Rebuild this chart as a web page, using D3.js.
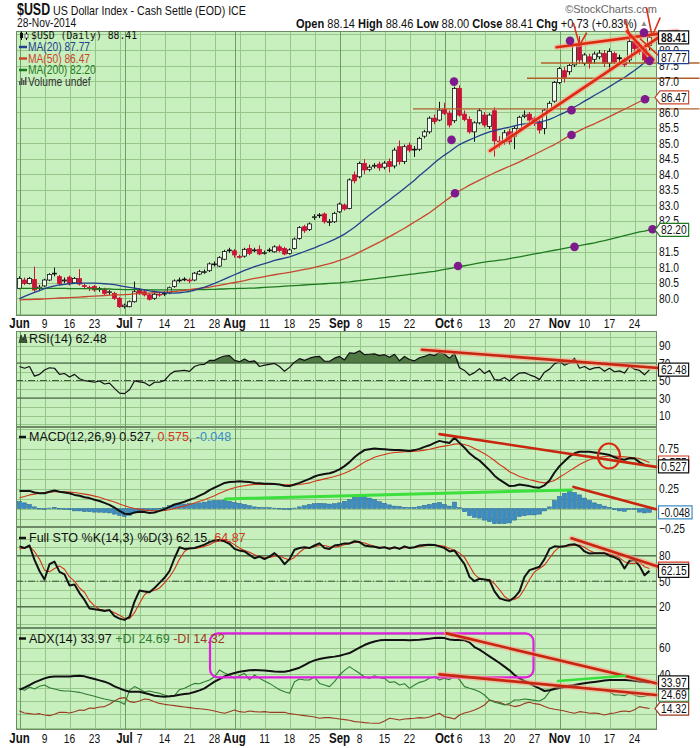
<!DOCTYPE html>
<html><head><meta charset="utf-8">
<script src="https://cdn.jsdelivr.net/npm/d3@7"></script>
<style>body{margin:0;background:#fff}text{font-family:"Liberation Sans",Arial,sans-serif}</style>
</head><body>
<svg id="c" width="700" height="748"></svg>
<script>
// ---------- DATA ----------
const holidays = ["2014-07-04","2014-09-01","2014-11-27"];
const monthNames = ["Jan","Feb","Mar","Apr","May","Jun","Jul","Aug","Sep","Oct","Nov","Dec"];
const openP = [80.31,80.58,80.47,80.60,80.31,80.39,80.58,80.78,80.69,80.55,80.67,80.49,80.63,80.40,80.34,80.37,80.28,80.28,80.18,80.15,79.99,79.72,79.72,79.88,80.26,80.20,80.10,79.99,80.12,80.13,80.17,80.37,80.57,80.59,80.58,80.58,80.77,80.84,80.88,81.09,81.03,81.25,81.54,81.52,81.34,81.35,81.60,81.54,81.57,81.45,81.54,81.49,81.65,81.60,81.44,81.60,81.92,82.30,82.21,82.60,82.66,82.71,82.45,82.46,82.78,83.00,82.89,83.97,83.91,84.34,84.15,84.25,84.32,84.22,84.40,84.26,84.88,84.40,84.93,84.80,84.80,85.22,85.36,85.80,85.74,86.09,85.96,85.72,86.76,85.93,85.76,85.36,85.65,85.90,85.53,86.04,85.06,85.04,85.36,85.22,85.47,85.86,85.93,85.80,85.69,85.47,86.06,86.35,86.95,87.33,87.30,87.52,88.15,87.57,87.78,87.70,87.78,87.89,87.57,87.89,87.75,87.68,87.68,88.27,88.16,88.05,88.14];
const highP = [80.70,80.66,80.68,81.01,80.42,80.62,80.80,80.98,80.74,80.66,80.72,80.68,80.93,80.46,80.40,80.42,80.36,80.33,80.25,80.20,80.03,79.82,79.92,80.53,80.32,80.26,80.14,80.18,80.20,80.22,80.37,80.60,80.66,80.67,80.64,80.84,80.90,80.92,81.15,81.18,81.35,81.55,81.62,81.58,81.40,81.62,81.72,81.62,81.70,81.53,81.62,81.70,81.72,81.65,81.60,81.95,82.32,82.36,82.44,82.70,82.74,82.76,82.55,82.78,83.08,83.05,83.86,84.08,84.40,84.48,84.30,84.35,84.40,84.42,84.50,84.85,85.08,84.95,85.02,84.90,85.20,85.42,85.86,85.92,86.33,86.30,86.05,86.82,86.86,86.05,85.86,85.70,86.12,86.00,85.96,86.15,85.22,85.42,85.45,85.55,85.88,86.05,86.00,85.85,85.75,86.10,86.35,87.00,87.45,87.45,87.55,88.20,88.45,87.90,87.88,87.95,88.00,88.00,88.05,87.95,87.85,87.75,88.35,88.35,88.25,88.10,88.46];
const lowP = [80.28,80.42,80.44,80.20,80.22,80.36,80.55,80.70,80.42,80.48,80.40,80.45,80.40,80.28,80.22,80.20,80.20,80.10,80.10,79.94,79.68,79.66,79.70,79.85,80.10,80.05,79.92,79.94,80.04,80.06,80.12,80.33,80.50,80.54,80.48,80.54,80.74,80.78,80.84,81.02,81.00,81.22,81.46,81.30,81.27,81.30,81.38,81.48,81.38,81.40,81.48,81.46,81.48,81.38,81.40,81.56,81.88,82.10,82.16,82.52,82.58,82.40,82.32,82.42,82.74,82.82,82.86,83.70,83.86,84.00,84.08,84.18,84.10,84.15,84.05,84.18,84.30,84.32,84.70,84.55,84.74,85.15,85.30,85.60,85.70,85.90,85.50,85.65,85.85,85.70,85.30,85.04,85.60,85.50,85.45,84.56,84.85,84.95,84.95,84.80,85.40,85.80,85.68,85.55,85.30,85.28,86.00,86.30,86.90,86.95,87.20,87.45,87.55,87.50,87.40,87.55,87.70,87.45,87.35,87.55,87.60,87.45,87.60,87.95,87.85,87.60,88.00];
const closeP = [80.63,80.47,80.63,80.26,80.35,80.58,80.76,80.80,80.47,80.58,80.47,80.63,80.45,80.37,80.31,80.26,80.31,80.15,80.20,79.99,79.72,79.77,79.88,80.20,80.15,80.10,79.96,80.12,80.10,80.15,80.33,80.55,80.58,80.61,80.56,80.80,80.85,80.85,81.10,81.10,81.30,81.50,81.55,81.39,81.33,81.57,81.44,81.55,81.42,81.46,81.55,81.65,81.53,81.42,81.55,81.90,82.27,82.17,82.39,82.62,82.68,82.46,82.46,82.73,83.03,82.87,83.81,83.78,84.34,84.13,84.22,84.28,84.20,84.35,84.24,84.77,84.40,84.88,84.77,84.78,85.15,85.36,85.80,85.69,86.06,85.96,85.58,86.76,85.90,85.76,85.36,85.65,86.04,85.58,85.90,85.07,85.04,85.33,85.04,85.47,85.83,85.90,85.74,85.63,85.42,86.06,86.28,86.95,87.40,87.12,87.50,88.15,87.68,87.84,87.57,87.87,87.90,87.57,87.95,87.62,87.72,87.52,88.27,88.05,87.95,87.68,88.41];
const ma20 = [79.98,80.05,80.12,80.18,80.24,80.30,80.35,80.39,80.42,80.44,80.46,80.47,80.48,80.48,80.48,80.48,80.47,80.46,80.45,80.43,80.40,80.37,80.34,80.32,80.29,80.26,80.23,80.21,80.19,80.17,80.16,80.16,80.17,80.19,80.21,80.25,80.30,80.35,80.41,80.47,80.54,80.61,80.68,80.75,80.82,80.89,80.95,81.01,81.06,81.11,81.16,81.21,81.25,81.29,81.33,81.38,81.44,81.50,81.56,81.62,81.69,81.75,81.82,81.89,81.97,82.06,82.17,82.28,82.41,82.55,82.68,82.80,82.92,83.04,83.16,83.29,83.41,83.54,83.67,83.80,83.95,84.08,84.22,84.36,84.49,84.61,84.72,84.84,84.95,85.03,85.10,85.17,85.24,85.30,85.36,85.40,85.44,85.48,85.51,85.55,85.59,85.62,85.64,85.66,85.67,85.71,85.76,85.83,85.91,85.98,86.06,86.16,86.25,86.35,86.44,86.54,86.63,86.72,86.82,86.92,87.02,87.11,87.23,87.34,87.46,87.60,87.77];
const ma50 = [79.94,79.95,79.95,79.96,79.96,79.97,79.98,79.99,80.00,80.00,80.01,80.02,80.03,80.04,80.05,80.06,80.07,80.08,80.09,80.10,80.10,80.11,80.12,80.13,80.14,80.15,80.16,80.17,80.18,80.19,80.20,80.21,80.23,80.25,80.27,80.29,80.31,80.33,80.35,80.38,80.41,80.44,80.47,80.50,80.53,80.56,80.60,80.63,80.66,80.69,80.72,80.75,80.78,80.80,80.83,80.86,80.89,80.92,80.95,80.99,81.03,81.07,81.11,81.16,81.21,81.27,81.33,81.40,81.48,81.56,81.64,81.72,81.80,81.89,81.98,82.07,82.16,82.25,82.35,82.45,82.55,82.65,82.75,82.87,82.99,83.11,83.23,83.36,83.46,83.55,83.64,83.72,83.80,83.88,83.96,84.04,84.11,84.18,84.25,84.32,84.39,84.47,84.55,84.63,84.71,84.79,84.87,84.95,85.04,85.14,85.24,85.32,85.40,85.48,85.55,85.62,85.70,85.77,85.85,85.93,86.01,86.09,86.17,86.25,86.33,86.40,86.47];
const ma200 = [80.31,80.31,80.31,80.31,80.31,80.31,80.31,80.31,80.31,80.31,80.30,80.30,80.30,80.30,80.30,80.29,80.29,80.29,80.29,80.28,80.28,80.27,80.27,80.27,80.27,80.26,80.26,80.26,80.26,80.26,80.26,80.26,80.26,80.26,80.26,80.27,80.27,80.27,80.28,80.28,80.29,80.29,80.30,80.30,80.31,80.31,80.32,80.32,80.33,80.34,80.35,80.36,80.37,80.38,80.39,80.40,80.41,80.42,80.43,80.44,80.45,80.46,80.47,80.48,80.49,80.51,80.52,80.54,80.56,80.58,80.60,80.62,80.64,80.66,80.68,80.70,80.72,80.74,80.76,80.78,80.80,80.82,80.84,80.86,80.89,80.92,80.95,80.98,81.01,81.04,81.07,81.10,81.13,81.16,81.18,81.20,81.22,81.24,81.27,81.30,81.33,81.36,81.39,81.42,81.45,81.48,81.51,81.54,81.57,81.60,81.63,81.66,81.69,81.72,81.75,81.78,81.82,81.85,81.89,81.93,81.97,82.01,82.05,82.09,82.13,82.16,82.20];
const rsi = [66,64,66,55,57,62,64.5,64,57,58,54,57,52,50,49,48,49.5,46,47,41,35.5,35,39.5,49.5,48.5,47.5,44,48,48,50,56.5,60.5,61,61.5,60.5,66,68,68.5,73,73,76,78,78.5,73,71.5,74.5,71.5,72.5,66,67.5,68.5,69.5,66,60.5,65,71,75,73,75.5,77,77.5,72,72,75.5,77.5,73.5,81.5,81,84,79.5,80,80.5,78.5,79.5,76.5,80,72.5,77.5,74,72.5,76,77.5,80,78.5,82,80,75.5,81,64.5,61.5,56,59,63.5,58,61.5,51,50.5,53.5,49.5,54.5,58.5,59,56.5,54.5,51,59.5,63,69,72,67.5,70,75.5,64,66,62.5,64.5,65,60.5,64,60,61,58.5,66.5,63,61.5,56.5,62.48];
const macd = [0.22,0.22,0.22,0.20,0.19,0.19,0.21,0.225,0.21,0.20,0.19,0.17,0.16,0.14,0.13,0.11,0.094,0.07,0.045,0.01,-0.03,-0.065,-0.07,-0.05,-0.04,-0.045,-0.055,-0.05,-0.03,-0.01,0.02,0.05,0.065,0.085,0.11,0.13,0.16,0.19,0.23,0.26,0.29,0.32,0.33,0.335,0.34,0.335,0.33,0.32,0.315,0.31,0.31,0.305,0.30,0.285,0.28,0.30,0.32,0.345,0.37,0.40,0.42,0.43,0.44,0.46,0.49,0.53,0.58,0.64,0.69,0.73,0.74,0.75,0.745,0.74,0.735,0.73,0.73,0.725,0.72,0.73,0.745,0.77,0.79,0.82,0.845,0.83,0.82,0.885,0.82,0.76,0.69,0.64,0.60,0.54,0.48,0.41,0.36,0.32,0.28,0.285,0.30,0.29,0.28,0.265,0.26,0.29,0.35,0.45,0.53,0.59,0.65,0.69,0.71,0.71,0.71,0.70,0.69,0.68,0.67,0.64,0.62,0.61,0.63,0.625,0.58,0.545,0.527];
const signal = [0.135,0.15,0.17,0.18,0.19,0.20,0.205,0.21,0.21,0.21,0.205,0.20,0.19,0.18,0.17,0.155,0.14,0.12,0.10,0.08,0.055,0.035,0.015,0.0,-0.01,-0.02,-0.025,-0.03,-0.03,-0.025,-0.015,0.0,0.015,0.03,0.05,0.07,0.09,0.11,0.135,0.16,0.19,0.215,0.24,0.26,0.275,0.285,0.295,0.30,0.30,0.30,0.30,0.30,0.30,0.295,0.295,0.295,0.30,0.31,0.32,0.34,0.355,0.37,0.385,0.40,0.42,0.44,0.47,0.50,0.54,0.58,0.61,0.64,0.66,0.675,0.69,0.70,0.705,0.71,0.71,0.715,0.72,0.73,0.74,0.755,0.77,0.78,0.79,0.805,0.81,0.80,0.78,0.75,0.72,0.685,0.645,0.60,0.55,0.51,0.46,0.43,0.40,0.38,0.36,0.345,0.33,0.32,0.33,0.35,0.39,0.43,0.47,0.51,0.55,0.58,0.61,0.63,0.64,0.65,0.655,0.655,0.65,0.645,0.64,0.635,0.625,0.60,0.575];
const hist = [0.085,0.07,0.05,0.02,0.0,-0.01,0.005,0.015,0.0,-0.01,-0.015,-0.03,-0.03,-0.04,-0.04,-0.045,-0.046,-0.05,-0.055,-0.07,-0.085,-0.10,-0.085,-0.05,-0.03,-0.025,-0.03,-0.02,0.0,0.015,0.035,0.05,0.05,0.055,0.06,0.06,0.07,0.08,0.095,0.10,0.10,0.105,0.09,0.075,0.065,0.05,0.035,0.02,0.015,0.01,0.01,0.005,0.0,-0.01,-0.015,0.005,0.02,0.035,0.05,0.06,0.065,0.06,0.055,0.06,0.07,0.09,0.11,0.14,0.15,0.15,0.13,0.11,0.085,0.065,0.045,0.03,0.025,0.015,0.01,0.015,0.025,0.04,0.05,0.065,0.075,0.05,0.03,0.08,0.01,-0.04,-0.09,-0.11,-0.12,-0.145,-0.165,-0.19,-0.19,-0.19,-0.18,-0.145,-0.10,-0.09,-0.08,-0.08,-0.07,-0.03,0.02,0.10,0.15,0.19,0.22,0.20,0.17,0.13,0.10,0.07,0.05,0.03,0.015,-0.015,-0.03,-0.035,-0.01,-0.01,-0.045,-0.055,-0.048];
const stoK = [91,89,92,75,62,52,70,73,61,58,45,46,36,28,18,17,16,15,16,9,6,4.5,8,26,39,38,37,42,48,54,62,77,90,88,88.5,89,91,93,96,98,98.5,97,94,88,86,85,81,77,79,76,79,83,78,70,76,87,89,90,89,92,94.5,89,88,92,93,94.5,94.5,97,96,92,91,90.5,89,90,88,90,88,91,89,90,92,92.5,93,92.5,91,89,85,86,78,70,55,50,53,52,51,38,30,28,27,31,38,55,63,65,67,76,88,91,90.5,91,93,93.5,91,85,82.5,83,83,83,80,78,75,65,74,75,68,57,62.15];
const stoD = [88,89,90.5,85,76,63,61,65,68,64,55,50,42,37,27,21,17,16,15.5,13,10,6.5,6,13,24,34,38,39,42,48,55,64,76,85,89,88.5,89.5,91,93,96,97.5,98,96.5,93,89,86,84,81,79,77.5,78,79.5,80,77,75,78,84,88.5,89.5,90.5,92,92,90.5,90,91,93,94,95.5,96,95,93,91,90,90,89,89.5,88.5,89.5,89.5,90,90.5,91.5,92.5,92.5,92,91,88.5,86.5,83,78,68,58,53,52,52,47,40,32,28,28.5,32,41,52,61,65,69,77,85,90,91,91.5,92.5,92.5,90,86,83.5,83,83,82,80.5,77.5,73,71,71,72.5,67,64.87];
const adx = [28.5,30,32,34,35.5,37,38,38.3,38.3,38.3,38.3,38.7,39,38.5,37.5,36.5,35.5,34.5,33,31,29.5,28,27,27,27,26,25,24,23.5,23.2,23.5,24,24.7,25.2,25.7,26.8,28,29.5,32,34.5,36.5,38.5,40,41,42,42.5,43,43.2,43,42.8,42.5,42.2,42,42,42.7,43.8,45,47,49,50.5,51.5,52.2,52.8,53.3,54,55,56,58,60,62,63.5,64.7,65.5,65.8,65.8,65.8,65.7,65.7,65.6,65.8,66,66.4,66.8,67.2,67.5,67.2,66.2,65.8,65.8,65.5,64,60.5,58.5,56,53.5,51,48.5,45.8,43,39.5,37,35,33.3,31.2,29.5,27.5,28,29,29.7,30.5,31.2,32,32.7,33.3,33.8,34.3,34.8,35.3,35.7,35.8,35.8,35.7,35.5,35.1,34.7,34.3,33.97];
const plusDI = [29.5,28,30.5,29,31,32,30,29,28,27.5,27.5,27,26.5,25.5,24.5,23.5,22.5,21.5,20.8,20,19.5,17.5,28,30.8,29,27,27.5,26.5,25.8,24.5,23.2,24,28.5,29.5,31.5,33.2,33,34.5,35.8,38.2,43.2,41,39.5,37,39,40.8,35.8,39.5,37,35,33.2,30.8,28.5,27,25.8,34.5,36.5,35.8,35.8,38.2,33.2,32,30.8,34.5,39.5,43,45.8,43.2,40.8,38,37,39,37.5,37,34,34.5,32,33,29.5,32,34,35,37,38.2,35.8,37,36,39.5,35.8,30.8,29.5,28.5,27,24.5,20.8,19,18.2,17,18.2,20.8,20.8,21.5,21,20.5,20,22,27,30,30.5,31,32,31.5,30.5,29.5,29.5,29,28.8,28.3,27,24.5,24.5,24,25.8,24.5,23.2,23.5,24.69];
const minusDI = [12.5,11,10.5,10,10.5,9.5,9,10,11.5,11.5,11,12,13.2,13,14.8,14.5,15.5,15.8,17.5,20,22,22.5,19.5,19,20,21.5,21,19.5,18.2,17.5,17,16.5,16,15.5,15,14.5,14.2,13.8,13.2,12.5,11.5,10.8,12,13.2,12,11.5,12.5,12,11.8,12,11.5,11.5,11.5,11.5,10.5,10,9.5,9,8.5,8,7,7.5,7.5,7,6.5,6,5.5,4.5,4.2,3.8,3.5,3.3,3.3,5,7,6.5,5.8,6.5,6.8,7,7.5,7.2,8,9.5,10.8,8.2,7.5,6.5,9.5,11,12,13.2,15,17,20.8,19.8,19,17.5,17,15.8,16.5,18.2,19,18,17.5,15.8,14.5,13.8,13.2,12.5,11.5,10.8,12,11.5,10.8,11,10.5,9.5,10.5,11,12,12.5,12,13.5,15.8,15,14.32];
// tick labels actually visible (labels fully hidden under value boxes in the reference are left out)
const mainTicks = [80.0,80.5,81.0,81.5,82.5,83.0,83.5,84.0,84.5,85.0,85.5,86.0,87.0,87.5,88.0];
const rsiTicks = [10,30,50,70,90];
const macdTicks = [-0.25,0.25,0.75];
const stoTicks = [20,50,80];
const adxTicks = [40,60];
// hand-drawn annotations, in (day index, value) space
const mainRedLines = [[94.1,84.75,128.2,88.45],[107.4,88.09,131.5,88.6],[121.5,88.6,126.8,87.68],[110.8,88.86,112,88.16],[113.4,88.54,112,88.16],[121.1,88.97,122.1,88.43],[125.4,89.35,126.4,88.54],[128.1,89.03,126.8,88.55],[124.2,88.35,127.6,87.85]];
const mainBrownLines = [[78.7,136,86.1],[101.5,136,87.09],[104.3,136,87.58]];
const mainDots = [[86.9,86.98],[86.4,85.1],[87.1,83.38],[87.7,81.03],[110.1,88.3],[110.4,86.06],[110.4,85.26],[111,81.65],[124.9,88.56],[126,87.65],[125.1,86.41],[126.6,82.22]];
const rsiRedLines = [[80.5,85.2,127.8,64.3]];
const macdRedLines = [[84,0.93,127.3,0.52],[110.8,0.27,127.3,-0.01]];
const macdGreenLines = [[41.2,0.12,110.4,0.232]];
const macdCircle = [117.9,0.656];
const stoRedLines = [[110.4,100.4,127.8,67]];
const adxBox = [38.1,102.8,37.75,70.75];
const adxRedLines = [[85.4,70.75,127.3,33.25],[84,40,127.3,24.5]];
const adxGreenLines = [[107.7,35,121.1,39]];

// ---------- SETUP ----------
const fmtDay = d3.timeFormat("%Y-%m-%d");
const dates = d3.timeDay.range(new Date(2014,5,2), new Date(2014,10,29))
  .filter(d => d.getDay()%6 !== 0 && !holidays.includes(fmtDay(d)));
const idx = d3.range(dates.length);
const L = 16, R = 657, NS = 0.82;
const x = d3.scaleLinear().domain([-0.7, 127.5]).range([L, R]);
const svg = d3.select("#c");
const SANS = '"Liberation Sans",Arial,sans-serif';

function ntext(px, py, str, size, opt){
  opt = opt || {};
  const t = svg.append("text").attr("transform",`translate(${px},${py}) scale(${opt.s||NS},1)`)
    .style("font-family",SANS).style("font-size",size+"px").style("font-weight",opt.bold?"bold":"normal")
    .attr("fill",opt.fill||"#111").attr("text-anchor",opt.anchor||"start");
  if (str!==null) t.text(str);
  return t;
}

const P = {
  main:{top:31,bottom:316,y:d3.scaleLinear().domain([83,88]).range([205,50]),grid:d3.range(79.5,88.76,0.5)},
  rsi:{top:331,bottom:427,y:d3.scaleLinear().domain([50,70]).range([380.5,363]),grid:d3.range(0,101,10)},
  macd:{top:427,bottom:527,y:d3.scaleLinear().domain([0,0.75]).range([508.5,448.5]),grid:d3.range(-0.25,1.01,0.125)},
  sto:{top:527,bottom:628,y:d3.scaleLinear().domain([20,80]).range([606.7,555.7]),grid:d3.range(0,101,10)},
  adx:{top:628,bottom:730,y:d3.scaleLinear().domain([20,60]).range([701,647.7]),grid:d3.range(0,81,10)}
};

const ticks = [];
dates.forEach((d,i)=>{
  const ms = i===0 || d.getMonth()!==dates[i-1].getMonth();
  const mon = d.getDay()===1;
  if (ms || mon) ticks.push({i, ms, mon, d});
});
const monthStarts = ticks.filter(t=>t.ms).map(t=>t.i);
ticks.forEach(t=>{
  if (t.ms) { t.label = monthNames[t.d.getMonth()]; t.bold = true; }
  else if (!monthStarts.some(m=>Math.abs(m-t.i)<=2)) { t.label = String(t.d.getDate()); }
});

const defs = svg.append("defs");
Object.entries(P).forEach(([k,p])=>{
  defs.append("clipPath").attr("id","clip-"+k).append("rect")
    .attr("x",L).attr("y",p.top).attr("width",R-L).attr("height",p.bottom-p.top);
});

function drawPanel(k){
  const p = P[k];
  svg.append("rect").attr("x",L).attr("y",p.top).attr("width",R-L).attr("height",p.bottom-p.top).attr("fill","#c8efbe");
  const gc = svg.append("g").attr("clip-path",`url(#clip-${k})`);
  p.grid.forEach(v=>{
    const yy = Math.round(p.y(v))+0.5;
    gc.append("line").attr("x1",L).attr("x2",R).attr("y1",yy).attr("y2",yy).attr("stroke","#97c58a");
  });
  ticks.forEach(t=>{
    const xx = Math.round(x(t.i))+0.5;
    gc.append("line").attr("x1",xx).attr("x2",xx).attr("y1",p.top).attr("y2",p.bottom)
      .attr("stroke", t.ms ? "#6f9e62" : "#97c58a");
  });
}
function border(k){
  const p = P[k];
  svg.append("rect").attr("x",L+0.5).attr("y",p.top+0.5).attr("width",R-L-1).attr("height",p.bottom-p.top-1)
    .attr("fill","none").attr("stroke","#6d8a66");
}
function line(k, arr, color, w){
  const p = P[k];
  svg.append("path").datum(idx).attr("clip-path",`url(#clip-${k})`)
    .attr("d", d3.line().x(i=>x(i)).y(i=>p.y(arr[i])))
    .attr("fill","none").attr("stroke",color).attr("stroke-width",w).attr("stroke-linejoin","round");
}
function axisLabels(k, vals, fmt){
  const p = P[k];
  vals.forEach(v=>ntext(659, p.y(v)+4.5, fmt(v), 12.5));
}
function valBox(k, v, txt, color, pointed, bold){
  const p = P[k]; const yy = p.y(v);
  const path = svg.append("path");
  const t = ntext(661, yy+4.5, txt, 12.5, {bold});
  const w = t.node().getComputedTextLength()*NS;
  const r = 663 + w;
  path.attr("d", pointed ? `M655,${yy} L660,${yy-6.5} H${r} V${yy+6.5} H660 Z` : `M658.5,${yy-6.5} H${r} V${yy+6.5} H658.5 Z`)
    .attr("fill","#fff").attr("stroke",color).attr("stroke-width",1.2);
}
function annoLines(k, arr, color, w, glow){
  const p = P[k];
  arr.forEach(a=>{
    if (glow) svg.append("line").attr("x1",x(a[0])).attr("y1",p.y(a[1])).attr("x2",x(a[2])).attr("y2",p.y(a[3]))
      .attr("stroke","#ff9c8c").attr("stroke-width",w+3).attr("opacity",0.55).attr("stroke-linecap","round");
    svg.append("line").attr("x1",x(a[0])).attr("y1",p.y(a[1])).attr("x2",x(a[2])).attr("y2",p.y(a[3]))
      .attr("stroke",color).attr("stroke-width",w).attr("stroke-linecap","round");
  });
}
function xLabels(yBase){
  ticks.filter(t=>t.label).forEach(t=>{
    ntext(x(t.i), yBase, t.label, t.bold?14:12.5, {bold:t.bold, anchor:"middle"});
  });
}
function legendMarker(yBase, color){
  svg.append("line").attr("x1",19).attr("x2",26).attr("y1",yBase-4).attr("y2",yBase-4).attr("stroke",color).attr("stroke-width",2.5);
}
function legendText(yBase, parts){
  const t = svg.append("text").attr("x",29).attr("y",yBase).style("font-family",SANS).style("font-size","12.5px");
  parts.forEach(pp=>t.append("tspan").text(pp[0]).attr("fill",pp[1]));
}

// ---------- HEADER ----------
ntext(17, 15, "$USD", 17, {bold:true, s:0.73});
ntext(53, 15, "US Dollar Index - Cash Settle (EOD) ICE", 13);
ntext(17, 27, "28-Nov-2014", 12.5);
const ohlc = ntext(637, 27.5, null, 13.5, {anchor:"end"});
[["Open",1],[" 88.14 ",0],["High",1],[" 88.46 ",0],["Low",1],[" 88.00 ",0],["Close",1],[" 88.41 ",0],["Chg",1],[" +0.73 (+0.83%)",0]]
  .forEach(p=>ohlc.append("tspan").text(p[0]).style("font-weight",p[1]?"bold":"normal"));
svg.append("text").attr("x",640).attr("y",26).text("▲").style("font-size","8px").attr("fill","#888");
svg.append("text").attr("x",657).attr("y",13).attr("text-anchor","end").text("©StockCharts.com").style("font-family",SANS).style("font-size","11px").attr("fill","#666");

// ---------- MAIN PANEL ----------
drawPanel("main");
const pm = P.main;
const cg = svg.append("g").attr("clip-path","url(#clip-main)");
line("main", ma200, "#1f7a1f", 1.3);
line("main", ma50, "#c8462e", 1.3);
line("main", ma20, "#22408f", 1.3);
idx.forEach(i=>{
  const o=openP[i], c=closeP[i], h=highP[i], l=lowP[i];
  const up = i===0 ? true : c >= closeP[i-1];
  const col = up ? "#111" : "#cc1236";
  const filled = c < o;
  const xx = x(i);
  cg.append("line").attr("x1",xx).attr("x2",xx).attr("y1",pm.y(h)).attr("y2",pm.y(l)).attr("stroke",col);
  const top = pm.y(Math.max(o,c)), bot = pm.y(Math.min(o,c));
  cg.append("rect").attr("x",xx-2).attr("width",4).attr("y",top).attr("height",Math.max(bot-top,0.8))
    .attr("fill", filled ? col : "#f3fbef").attr("stroke",col).attr("stroke-width",0.8);
});
mainBrownLines.forEach(a=>{
  svg.append("line").attr("x1",x(a[0])).attr("x2",Math.min(x(a[1]),700)).attr("y1",pm.y(a[2])).attr("y2",pm.y(a[2]))
    .attr("stroke","#b0602a").attr("stroke-width",1.4);
});
border("main");
axisLabels("main", mainTicks, d3.format(".1f"));
annoLines("main", mainRedLines.slice(0,3), "#dd2a10", 2.6, true);
annoLines("main", mainRedLines.slice(3), "#e0301a", 1.6, false);
mainDots.forEach(d=>svg.append("circle").attr("cx",x(d[0])).attr("cy",pm.y(d[1])).attr("r",4.3).attr("fill","#7e1a8c"));
valBox("main", 82.20, "82.20", "#1f7a1f", true);
valBox("main", 86.47, "86.47", "#c8462e", true);
valBox("main", 87.77, "87.77", "#22408f", false);
valBox("main", 88.41, "88.41", "#111", false, true);
// legend
svg.append("line").attr("x1",21.5).attr("x2",21.5).attr("y1",31.5).attr("y2",40).attr("stroke","#111");
svg.append("rect").attr("x",20).attr("y",33).attr("width",3).attr("height",5).attr("fill","#111");
svg.append("line").attr("x1",26.5).attr("x2",26.5).attr("y1",32).attr("y2",40).attr("stroke","#111");
svg.append("rect").attr("x",25).attr("y",34).attr("width",3).attr("height",4).attr("fill","#fff").attr("stroke","#111").attr("stroke-width",0.6);
svg.append("text").attr("x",31).attr("y",39).text("$USD (Daily) 88.41").style("font-family","DejaVu Sans Mono,monospace").style("font-size","9.8px").attr("fill","#111");
[["MA(20) 87.77","#22408f",51],["MA(50) 86.47","#c8462e",62.5],["MA(200) 82.20","#1f7a1f",74]].forEach(m=>{
  svg.append("line").attr("x1",19).attr("x2",27).attr("y1",m[2]-4).attr("y2",m[2]-4).attr("stroke",m[1]).attr("stroke-width",2.5);
  ntext(28, m[2], m[0], 12.5, {fill:m[1]});
});
[4,7,5,8].forEach((h,j)=>svg.append("rect").attr("x",19+j*2).attr("y",85-h).attr("width",1.5).attr("height",h).attr("fill","#555"));
ntext(28, 85.5, "Volume undef", 12.5, {fill:"#333"});

xLabels(327.5);

// ---------- RSI ----------
drawPanel("rsi");
const pr = P.rsi;
svg.append("path").datum(idx).attr("clip-path","url(#clip-rsi)")
  .attr("d", d3.area().x(i=>x(i)).y0(pr.y(70)).y1(i=>pr.y(Math.max(rsi[i],70))))
  .attr("fill","#4f7a44");
[70,30].forEach(v=>svg.append("line").attr("x1",L).attr("x2",R).attr("y1",pr.y(v)).attr("y2",pr.y(v)).attr("stroke","#3d553a"));
svg.append("line").attr("x1",L).attr("x2",R).attr("y1",pr.y(50)).attr("y2",pr.y(50)).attr("stroke","#3d553a").attr("stroke-dasharray","7,2,1,2");
line("rsi", rsi, "#111", 1.2);
border("rsi");
axisLabels("rsi", rsiTicks, d3.format("d"));
annoLines("rsi", rsiRedLines, "#c8260e", 2.6, true);
valBox("rsi", 62.48, "62.48", "#111", false);
svg.append("path").attr("d","M19,343 L21,335 L23,340 L25,334 L27,343").attr("fill","#3a5a30").attr("stroke","#222").attr("stroke-width",0.8);
legendText(343, [["RSI(14) 62.48","#111"]]);

// ---------- MACD ----------
drawPanel("macd");
const pc = P.macd;
const hg = svg.append("g").attr("clip-path","url(#clip-macd)");
idx.forEach(i=>{
  const y0 = pc.y(0), y1 = pc.y(hist[i]);
  hg.append("rect").attr("x",x(i)-2).attr("width",4).attr("y",Math.min(y0,y1)).attr("height",Math.max(Math.abs(y1-y0),0.5))
    .attr("fill","#3a8cc4").attr("stroke","#24618e").attr("stroke-width",0.5);
});
line("macd", signal, "#d2361a", 1.1);
line("macd", macd, "#111", 2);
border("macd");
axisLabels("macd", macdTicks, d3.format(".2f"));
annoLines("macd", macdRedLines, "#c8260e", 2.6, false);
annoLines("macd", macdGreenLines, "#3ce03c", 3, false);
svg.append("ellipse").attr("cx",x(macdCircle[0])).attr("cy",pc.y(macdCircle[1])).attr("rx",11).attr("ry",12.5)
  .attr("fill","none").attr("stroke","#d82a10").attr("stroke-width",2.2);
valBox("macd", 0.575, "0.575", "#d2361a", false);
valBox("macd", 0.527, "0.527", "#111", false);
valBox("macd", -0.048, "-0.048", "#3a8cc4", false);
legendMarker(441, "#111");
legendText(441, [["MACD(12,26,9) 0.527, ","#111"],["0.575","#d2361a"],[", ","#111"],["-0.048","#3a8cc4"]]);

// ---------- STO ----------
drawPanel("sto");
const ps = P.sto;
[80,20].forEach(v=>svg.append("line").attr("x1",L).attr("x2",R).attr("y1",ps.y(v)).attr("y2",ps.y(v)).attr("stroke","#3d553a"));
svg.append("line").attr("x1",L).attr("x2",R).attr("y1",ps.y(50)).attr("y2",ps.y(50)).attr("stroke","#3d553a").attr("stroke-dasharray","7,2,1,2");
line("sto", stoD, "#d2361a", 1.1);
line("sto", stoK, "#111", 2);
border("sto");
axisLabels("sto", stoTicks, d3.format("d"));
annoLines("sto", stoRedLines, "#c8260e", 2.6, true);
valBox("sto", 64.87, "64.87", "#d2361a", false);
valBox("sto", 62.15, "62.15", "#111", false);
legendMarker(542, "#111");
legendText(542, [["Full STO %K(14,3) %D(3) 62.15, ","#111"],["64.87","#d2361a"]]);

// ---------- ADX ----------
drawPanel("adx");
const pa = P.adx;
line("adx", minusDI, "#9a3b22", 1.1);
line("adx", plusDI, "#2e7d32", 1.1);
line("adx", adx, "#111", 2);
border("adx");
axisLabels("adx", adxTicks, d3.format("d"));
svg.append("rect").attr("x",x(adxBox[0])).attr("y",pa.y(adxBox[3])).attr("width",x(adxBox[1])-x(adxBox[0])).attr("height",pa.y(adxBox[2])-pa.y(adxBox[3]))
  .attr("rx",8).attr("fill","none").attr("stroke","#e020e0").attr("stroke-width",2.2);
annoLines("adx", adxRedLines, "#c8260e", 2.6, true);
annoLines("adx", adxGreenLines, "#3ce03c", 2.6, false);
valBox("adx", 14.32, "14.32", "#9a3b22", true);
valBox("adx", 24.69, "24.69", "#2e7d32", false);
valBox("adx", 33.97, "33.97", "#111", false);
legendMarker(642.5, "#111");
legendText(642.5, [["ADX(14) 33.97 ","#111"],["+DI 24.69 ","#2e7d32"],["-DI 14.32","#9a3b22"]]);

xLabels(743);
</script>
</body></html>
